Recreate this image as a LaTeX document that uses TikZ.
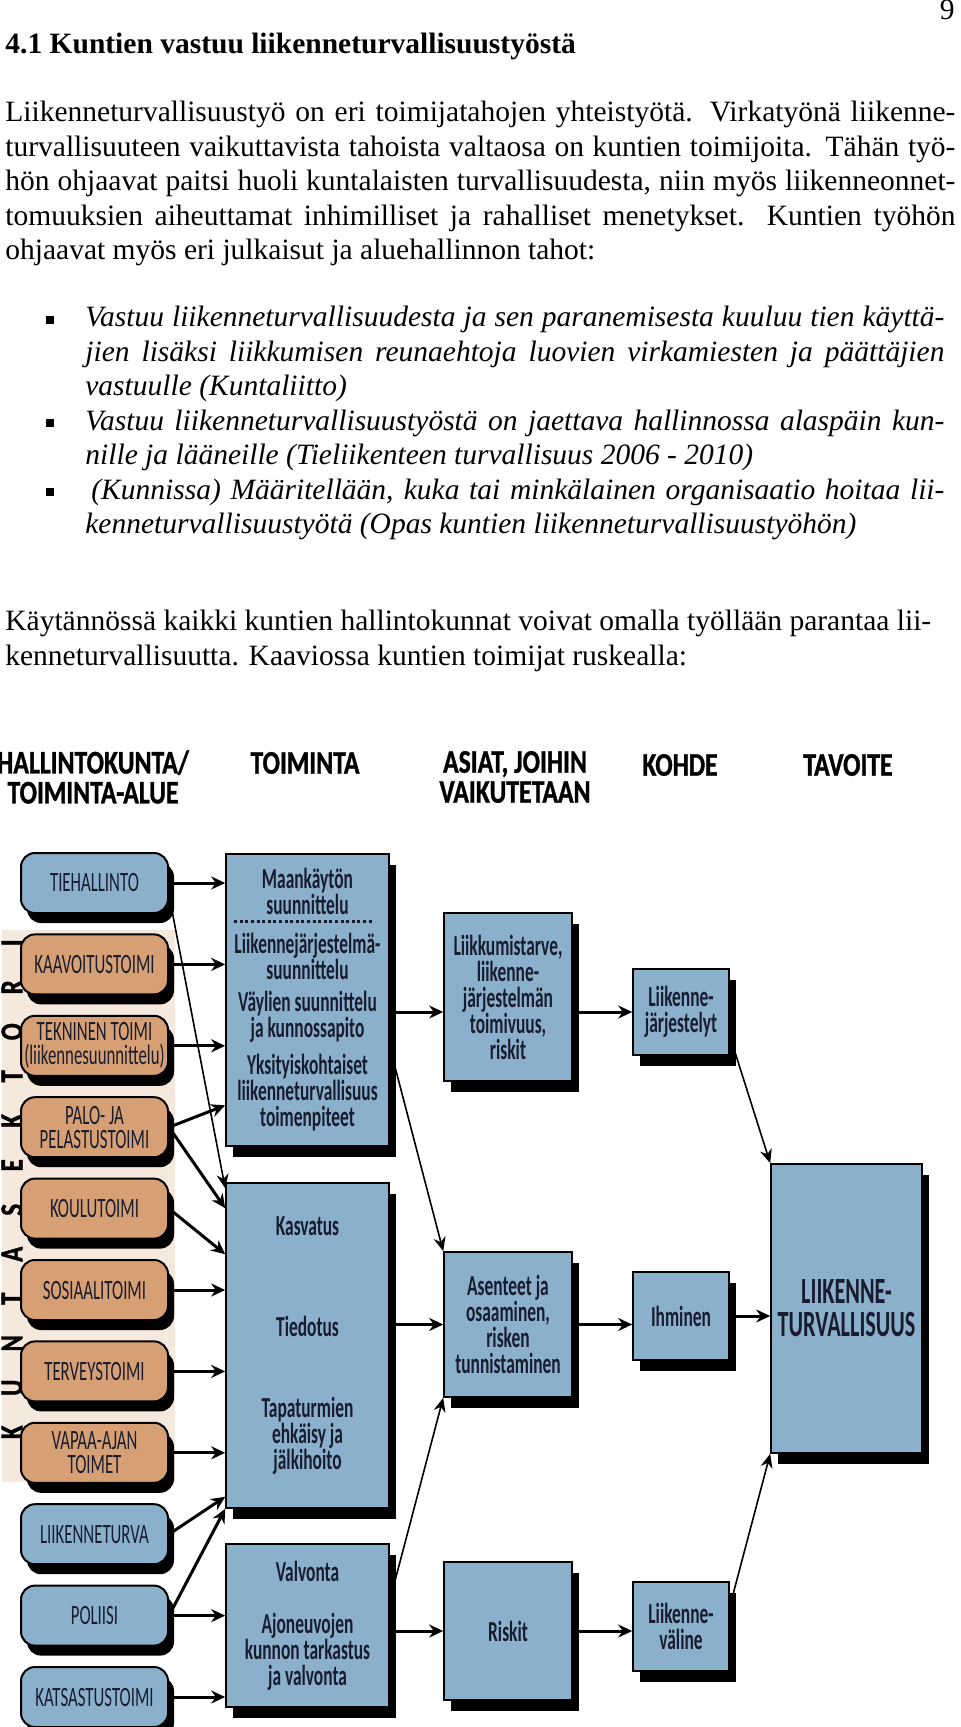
\documentclass[tikz,border=0pt]{standalone}
\usepackage{fontspec}
\setmainfont{Liberation Serif}
\newfontfamily\diafont[FakeStretch=0.6]{Carlito}
\newfontfamily\headfont[FakeStretch=0.78,FakeBold=1]{Carlito}
\usetikzlibrary{arrows.meta,positioning,shadows}
\definecolor{kblue}{RGB}{138,176,203}
\definecolor{kbrown}{RGB}{214,160,116}
\definecolor{kpeach}{RGB}{245,232,220}
\definecolor{kink}{RGB}{24,28,46}
\newcommand{\bodyfont}{\fontsize{14.75pt}{17.25pt}\selectfont}
\newcommand{\jline}[1]{\makebox[475pt][s]{#1}}
\newcommand{\bline}[1]{\makebox[429.5pt][s]{#1}}
\newcommand{\blt}{\makebox[0pt][r]{\raisebox{1.5pt}{\rule{4pt}{4pt}}\hspace{15.5pt}}}
\newcommand{\seklet}[1]{\makebox[22.25pt]{#1}}
\tikzset{
  txt/.style={inner sep=0pt,align=left,font=\bodyfont},
  org/.style={rectangle,rounded corners=7pt,draw=black,line width=1pt,
              minimum width=73.5pt,minimum height=30pt,inner sep=1pt,
              align=center,text=kink,
              font={\diafont\fontsize{14pt}{12pt}\selectfont},
              drop shadow={shadow xshift=3pt,shadow yshift=-5pt,fill=black,opacity=1}},
  kunta/.style={org,fill=kbrown},
  valtio/.style={org,fill=kblue},
  blk/.style={rectangle,draw=black,line width=0.8pt,fill=kblue,
              inner sep=0pt,align=center,text=kink,
              font={\diafont\bfseries\fontsize{14.5pt}{13pt}\selectfont},
              drop shadow={shadow xshift=3.5pt,shadow yshift=-5.5pt,fill=black,opacity=1}},
  colhead/.style={inner sep=0pt,align=center,
              font={\headfont\bfseries\fontsize{16.5pt}{15pt}\selectfont}},
  flow/.style={-{Stealth[length=7pt,width=6.5pt]},line width=1.5pt},
  slim/.style={-{Stealth[length=7pt,width=6pt]},line width=0.8pt},
  sepline/.style={line width=1.6pt,dash pattern=on 1.5pt off 1.3pt,kink},
}

\begin{document}
\begin{tikzpicture}[x=0.5pt,y=-0.5pt,node distance=9.7pt]
  \useasboundingbox (0,0) rectangle (960,1727);
  \node[txt,anchor=north east] (sivu) at (955,0) {9};
  \node[txt,anchor=north west,font=\bfseries\bodyfont] (otsikko) at (5,33)
     {4.1 Kuntien vastuu liikenneturvallisuustyöstä};
  \node[txt,anchor=north west] (kpl1) at (5,101)
     {\jline{Liikenneturvallisuustyö on eri toimijatahojen yhteistyötä. Virkatyönä liikenne-}\\
      \jline{turvallisuuteen vaikuttavista tahoista valtaosa on kuntien toimijoita. Tähän työ-}\\
      \jline{hön ohjaavat paitsi huoli kuntalaisten turvallisuudesta, niin myös liikenneonnet-}\\
      \jline{tomuuksien aiheuttamat inhimilliset ja rahalliset menetykset. Kuntien työhön}\\
      ohjaavat myös eri julkaisut ja aluehallinnon tahot:};
  \node[txt,anchor=north west,font=\itshape\bodyfont] (lainaukset) at (85,306)
     {\blt\bline{Vastuu liikenneturvallisuudesta ja sen paranemisesta kuuluu tien käyttä-}\\
      \bline{jien lisäksi liikkumisen reunaehtoja luovien virkamiesten ja päättäjien}\\
      vastuulle (Kuntaliitto)\\
      \blt\bline{Vastuu liikenneturvallisuustyöstä on jaettava hallinnossa alaspäin kun-}\\
      nille ja lääneille (Tieliikenteen turvallisuus 2006 - 2010)\\
      \blt\hspace{3pt}\makebox[426.5pt][s]{(Kunnissa) Määritellään, kuka tai minkälainen organisaatio hoitaa lii-}\\
      kenneturvallisuustyötä (Opas kuntien liikenneturvallisuustyöhön)};
  \node[txt,anchor=north west] (kpl2) at (5,610)
     {Käytännössä kaikki kuntien hallintokunnat voivat omalla työllään parantaa lii-\\
      kenneturvallisuutta. Kaaviossa kuntien toimijat ruskealla:};

  \node[colhead] (hhal) at (93,777) {HALLINTOKUNTA/\\TOIMINTA-ALUE};
  \node[colhead] (htoim) at (305,763) {TOIMINTA};
  \node[colhead] (hasia) at (515,777) {ASIAT, JOIHIN\\VAIKUTETAAN};
  \node[colhead] (hkoh) at (680,765) {KOHDE};
  \node[colhead] (htav) at (848,765) {TAVOITE};

  \fill[kpeach] (2,930) rectangle (175,1482);
  \node[colhead,rotate=90,font={\headfont\bfseries\fontsize{16pt}{16pt}\selectfont}]
     (sektori) at (12,1187.5)
     {\seklet{K}\seklet{U}\seklet{N}\seklet{T}\seklet{A}\seklet{S}%
      \seklet{E}\seklet{K}\seklet{T}\seklet{O}\seklet{R}\seklet{I}};

  \node[valtio] (tieh) at (94.5,883) {TIEHALLINTO};
  \node[kunta,below=of tieh] (kaav) {KAAVOITUSTOIMI};
  \node[kunta,below=of kaav] (tekn) {TEKNINEN TOIMI\\(liikennesuunnittelu)};
  \node[kunta,below=of tekn] (palo) {PALO- JA\\PELASTUSTOIMI};
  \node[kunta,below=of palo] (koulu) {KOULUTOIMI};
  \node[kunta,below=of koulu] (sosi) {SOSIAALITOIMI};
  \node[kunta,below=of sosi] (terv) {TERVEYSTOIMI};
  \node[kunta,below=of terv] (vapaa) {VAPAA-AJAN\\TOIMET};
  \node[valtio,below=of vapaa] (lturva) {LIIKENNETURVA};
  \node[valtio,below=of lturva] (poli) {POLIISI};
  \node[valtio,below=of poli] (katsa) {KATSASTUSTOIMI};

  \node[blk,minimum width=81.5pt,minimum height=146pt] (toim1) at (307.5,1000)
     {Maankäytön\\suunnittelu\\[6.5pt]Liikennejärjestelmä-\\suunnittelu\\[3pt]%
      Väylien suunnittelu\\ja kunnossapito\\[5.5pt]Yksityiskohtaiset\\%
      liikenneturvallisuus\\toimenpiteet};
  \node[blk,minimum width=81.5pt,minimum height=162.5pt] (toim2) at (307.5,1345.5)
     {Kasvatus\\[37.5pt]Tiedotus\\[27.5pt]Tapaturmien\\ehkäisy ja\\jälkihoito};
  \node[blk,minimum width=81.5pt,minimum height=81.5pt] (toim3) at (307.5,1625.5)
     {Valvonta\\[13pt]Ajoneuvojen\\kunnon tarkastus\\ja valvonta};
  \draw[sepline] ([xshift=4.5pt,yshift=-34pt]toim1.north west)
     -- ([xshift=-8.5pt,yshift=-34pt]toim1.north east);

  \node[blk,minimum width=64pt,minimum height=84pt] (asiat1) at (508,997)
     {Liikkumistarve,\\liikenne-\\järjestelmän\\toimivuus,\\riskit};
  \node[blk,minimum width=64pt,minimum height=72.5pt] (asiat2) at (508,1324.5)
     {Asenteet ja\\osaaminen,\\risken\\tunnistaminen};
  \node[blk,minimum width=64pt,minimum height=69pt] (asiat3) at (508,1631) {Riskit};

  \node[blk,minimum width=48pt,minimum height=43pt] (kohde1) at (681,1012)
     {Liikenne-\\järjestelyt};
  \node[blk,minimum width=48pt,minimum height=44pt] (kohde2) at (681,1316) {Ihminen};
  \node[blk,minimum width=48pt,minimum height=44.5pt] (kohde3) at (681,1626.5)
     {Liikenne-\\väline};

  \node[blk,minimum width=75.5pt,minimum height=144.5pt,
        font={\diafont\bfseries\fontsize{18.5pt}{16.5pt}\selectfont}]
     (tavoite) at (846.5,1308.5) {LIIKENNE-\\TURVALLISUUS};

  \draw[flow] (tieh) -- (tieh -| toim1.west);
  \draw[flow] (kaav) -- (kaav -| toim1.west);
  \draw[flow] (tekn) -- (tekn -| toim1.west);
  \draw[flow] (palo.east) -- (toim1.232);
  \draw[flow] (palo.east) -- ([yshift=-13pt]toim2.north west);
  \draw[slim] ([yshift=-6pt]tieh.east) -- ([yshift=-3pt]toim2.north west);
  \draw[flow] (koulu.east) -- ([yshift=-36pt]toim2.north west);
  \draw[flow] (sosi) -- (sosi -| toim2.west);
  \draw[flow] (terv) -- (terv -| toim2.west);
  \draw[flow] (vapaa) -- (vapaa -| toim2.west);
  \draw[flow] (lturva.east) -- ([yshift=6pt]toim2.south west);
  \draw[flow] (poli.east) -- (toim2.south west);
  \draw[flow] (poli) -- (poli -| toim3.west);
  \draw[flow] (katsa) -- (katsa -| toim3.west);

  \draw[flow] (kohde1 -| toim1.east) -- (kohde1 -| asiat1.west);
  \draw[slim] ([yshift=-23.5pt]toim1.east) -- (asiat2.north west);
  \draw[flow] (asiat2 -| toim2.east) -- (asiat2.west);
  \draw[slim] ([yshift=12.5pt]toim3.east) -- (asiat2.south west);
  \draw[flow] (asiat3 -| toim3.east) -- (asiat3.west);

  \draw[flow] (kohde1 -| asiat1.east) -- (kohde1.west);
  \draw[flow] (asiat2) -- (asiat2 -| kohde2.west);
  \draw[flow] (asiat3) -- (asiat3 -| kohde3.west);

  \draw[slim] ([yshift=10pt]kohde1.south east) -- (tavoite.north west);
  \draw[flow] (kohde2) -- (kohde2 -| tavoite.west);
  \draw[slim] ([yshift=10pt]kohde3.east) -- (tavoite.south west);
\end{tikzpicture}
\end{document}
